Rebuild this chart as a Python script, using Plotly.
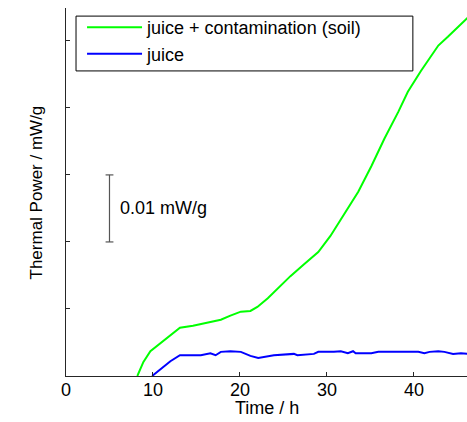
import plotly.graph_objects as go

# Data (time in h, thermal power in mW/g)
soil_time = [8.2, 8.9, 9.7, 11.2, 12.3, 13.1, 14.6, 16.6, 17.8, 18.9, 20.1, 21.2, 22.0,
             23.2, 24.3, 25.8, 27.4, 29.0, 30.4, 31.9, 33.6, 35.1, 36.6, 38.2, 39.3,
             40.8, 42.8, 43.9, 46.3]
soil_power = [0.0, 0.0021, 0.0037, 0.0052, 0.0063, 0.0072, 0.0075, 0.0081, 0.0084, 0.0090,
              0.0096, 0.0097, 0.0103, 0.0116, 0.0130, 0.0149, 0.0167, 0.0185, 0.0209,
              0.0239, 0.0275, 0.0313, 0.0354, 0.0394, 0.0424, 0.0455, 0.0493, 0.0506, 0.0536]

juice_time = [9.9, 10.8, 12.0, 13.1, 15.5, 16.6, 17.2, 17.8, 18.9, 20.1, 21.2, 22.1, 23.2,
              23.9, 26.2, 26.6, 28.5, 29.0, 30.8, 31.6, 32.4, 33.0, 33.3, 35.1, 35.9,
              37.4, 38.2, 40.0, 40.5, 41.2, 41.8, 42.8, 43.5, 44.5, 45.4, 46.3]
juice_power = [0.0, 0.0010, 0.0022, 0.0031, 0.0031, 0.0034, 0.0031, 0.0036, 0.0037, 0.0036,
               0.0030, 0.0027, 0.0030, 0.0031, 0.0033, 0.0031, 0.0033, 0.0036, 0.0036,
               0.0037, 0.0034, 0.0037, 0.0034, 0.0034, 0.0036, 0.0036, 0.0037, 0.0037,
               0.0036, 0.0034, 0.0036, 0.0037, 0.0036, 0.0033, 0.0034, 0.0033]

x_ticks = [0, 10, 20, 30, 40]
y_ticks = [0, 0.01, 0.02, 0.03, 0.04, 0.05]
scale_bar_x = 5
scale_bar_y = [0.02, 0.03]
scale_bar_label = "0.01 mW/g"

FONT = "Liberation Sans, Arial, sans-serif"
AX = "#262626"
FS = 18

fig = go.Figure()
fig.add_trace(go.Scatter(x=soil_time, y=soil_power, mode="lines",
                         name="juice + contamination (soil)",
                         line=dict(color="#00FF00", width=2)))
fig.add_trace(go.Scatter(x=juice_time, y=juice_power, mode="lines",
                         name="juice",
                         line=dict(color="#0000FF", width=2)))

# scale bar
fig.add_shape(type="line", xref="x", yref="y", x0=scale_bar_x, x1=scale_bar_x,
              y0=scale_bar_y[0], y1=scale_bar_y[1], line=dict(color="#555555", width=1.2))
for yy in scale_bar_y:
    fig.add_shape(type="line", xref="x", yref="y", x0=scale_bar_x - 0.45, x1=scale_bar_x + 0.45,
                  y0=yy, y1=yy, line=dict(color="#555555", width=1.2))
fig.add_annotation(x=scale_bar_x + 0.95, y=sum(scale_bar_y) / 2, xref="x", yref="y",
                   text=scale_bar_label, showarrow=False, xanchor="left", yanchor="middle",
                   font=dict(family=FONT, size=FS, color="black"))

# legend box
fig.add_shape(type="rect", xref="paper", yref="paper", x0=0.025, x1=0.865,
              y0=0.829, y1=0.978, line=dict(color="black", width=1), layer="above")

# axis titles
fig.add_annotation(x=0.5, y=-0.087, xref="paper", yref="paper", text="Time / h",
                   showarrow=False, xanchor="center", yanchor="middle",
                   font=dict(family=FONT, size=FS, color="black"))
fig.add_annotation(x=-0.0736, y=0.5, xref="paper", yref="paper", text="Thermal Power / mW/g",
                   showarrow=False, textangle=-90, xanchor="center", yanchor="middle",
                   font=dict(family=FONT, size=17, color="black"))

fig.update_layout(
    width=467, height=422,
    margin=dict(l=66, r=0, t=8, b=46),
    paper_bgcolor="white", plot_bgcolor="white",
    font=dict(family=FONT, size=FS, color="black"),
    showlegend=True,
    legend=dict(x=0.040, y=0.997, xanchor="left", yanchor="top",
                bgcolor="rgba(0,0,0,0)", borderwidth=0,
                font=dict(family=FONT, size=FS, color="black"),
                itemwidth=55, tracegroupgap=0),
    xaxis=dict(range=[0, 46.1], tickvals=x_ticks, ticktext=[str(v) for v in x_ticks],
               ticks="inside", ticklen=4, tickcolor=AX, showline=True, linecolor=AX,
               linewidth=1, showgrid=False, zeroline=False, mirror=False,
               ticklabelstandoff=-3,
               tickfont=dict(family=FONT, size=FS, color="black")),
    yaxis=dict(range=[0, 0.0549], tickvals=y_ticks, showticklabels=False,
               ticks="inside", ticklen=4, tickcolor=AX, showline=True, linecolor=AX,
               linewidth=1, showgrid=False, zeroline=False, mirror=False),
)

fig.write_html("out.html", config={"displayModeBar": False},
               post_script="document.body.style.margin='0';document.body.style.overflow='hidden';")
